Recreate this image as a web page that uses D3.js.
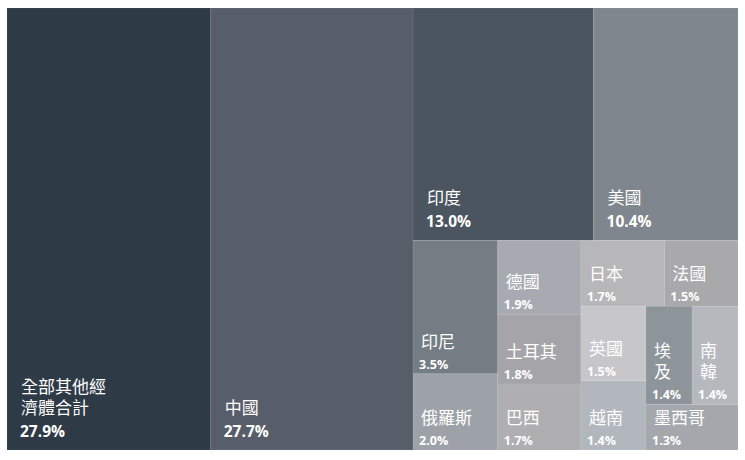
<!DOCTYPE html>
<html>
<head>
<meta charset="utf-8">
<script src="https://cdn.jsdelivr.net/npm/d3@7"></script>
<style>
  html, body { margin: 0; padding: 0; background: #fff; }
  svg { display: block; }
  .name { font-family: "Noto Sans CJK TC", "Noto Sans", sans-serif; fill: #fff; }
  .pct { font-family: "Open Sans", "Noto Sans", sans-serif; font-weight: 700; fill: #fff; }
</style>
</head>
<body>
<svg id="chart"></svg>
<script>
const width = 745;
const height = 460;
const margin = { top: 8, right: 7, bottom: 10, left: 7 };

// economies, in drawing order
const names = [
  "全部其他經\n濟體合計", "中國", "印度", "美國",
  "印尼", "俄羅斯", "德國", "土耳其", "巴西",
  "日本", "法國", "英國", "越南", "埃及", "南韓", "墨西哥"
];
const shares = [27.9, 27.7, 13.0, 10.4, 3.5, 2.0, 1.9, 1.8, 1.7, 1.7, 1.5, 1.5, 1.4, 1.4, 1.4, 1.3];
// vertical name for the two narrow cells
const verticalNames = ["埃及", "南韓"];

const palette = [
  "#2e3a46", "#575e69", "#4b5560", "#80868d",
  "#747c84", "#9da2a8", "#a7abb1", "#a5a4a9", "#afaeb0",
  "#b7b6b8", "#a9a8ab", "#c7c6ca", "#b1b7bc", "#8d949a", "#b5b9be", "#a4a8ad"
];

// how the cells are grouped: "dice" splits across, "slice" splits down
const grouping = ["dice", 0, 1,
  ["slice",
    ["dice", 2, 3],
    ["dice",
      ["slice", 4, 5],
      ["slice", 6, 7, 8],
      ["slice",
        ["dice", 9, 10],
        ["dice",
          ["slice", 11, 12],
          ["slice", ["dice", 13, 14], 15]
        ]
      ]
    ]
  ]
];

const build = (g) => {
  if (typeof g === "number") return { name: names[g], value: shares[g], idx: g };
  return { dir: g[0], children: g.slice(1).map(build) };
};

const color = d3.scaleOrdinal().domain(d3.range(names.length)).range(palette);

const root = d3.hierarchy(build(grouping)).sum((d) => d.value || 0);

d3.treemap()
  .size([width - margin.left - margin.right, height - margin.top - margin.bottom])
  .tile((node, x0, y0, x1, y1) =>
    (node.data.dir === "slice" ? d3.treemapSlice : d3.treemapDice)(node, x0, y0, x1, y1))
  .round(false)(root);

const svg = d3.select("#chart").attr("width", width).attr("height", height);

const g = svg.append("g").attr("transform", `translate(${margin.left},${margin.top})`);

const cell = g.selectAll("g.cell")
  .data(root.leaves())
  .join("g")
  .attr("class", "cell")
  .attr("transform", (d) => `translate(${d.x0},${d.y0})`);

cell.append("rect")
  .attr("width", (d) => d.x1 - d.x0)
  .attr("height", (d) => d.y1 - d.y0)
  .attr("fill", (d) => color(d.data.idx))
  .attr("stroke", "rgba(255,255,255,0.07)")
  .attr("stroke-width", 1);

cell.each(function (d) {
  const w = d.x1 - d.x0;
  const h = d.y1 - d.y0;
  const big = h > 150;
  const padX = big ? 13 : 6;
  const pctY = big ? h - 13 : h - 5;
  const step = big ? 23 : 21;
  const nameY = pctY - step;
  let lines = d.data.name.split("\n");
  if (verticalNames.includes(d.data.name)) lines = d.data.name.split("");

  const sel = d3.select(this);
  sel.append("text")
    .attr("class", "pct")
    .attr("x", padX)
    .attr("y", pctY)
    .style("font-size", big ? "15.5px" : "12.5px")
    .text(d3.format(".1f")(d.data.value) + "%");

  const t = sel.append("text")
    .attr("class", "name")
    .attr("x", padX + (big ? 1 : 2))
    .style("font-size", "17px");
  lines.forEach((line, i) => {
    t.append("tspan")
      .attr("x", padX + (big ? 1 : 2) + (lines.length > 2 ? 4 : 0))
      .attr("y", nameY - (lines.length - 1 - i) * 21)
      .text(line);
  });
});
</script>
</body>
</html>
